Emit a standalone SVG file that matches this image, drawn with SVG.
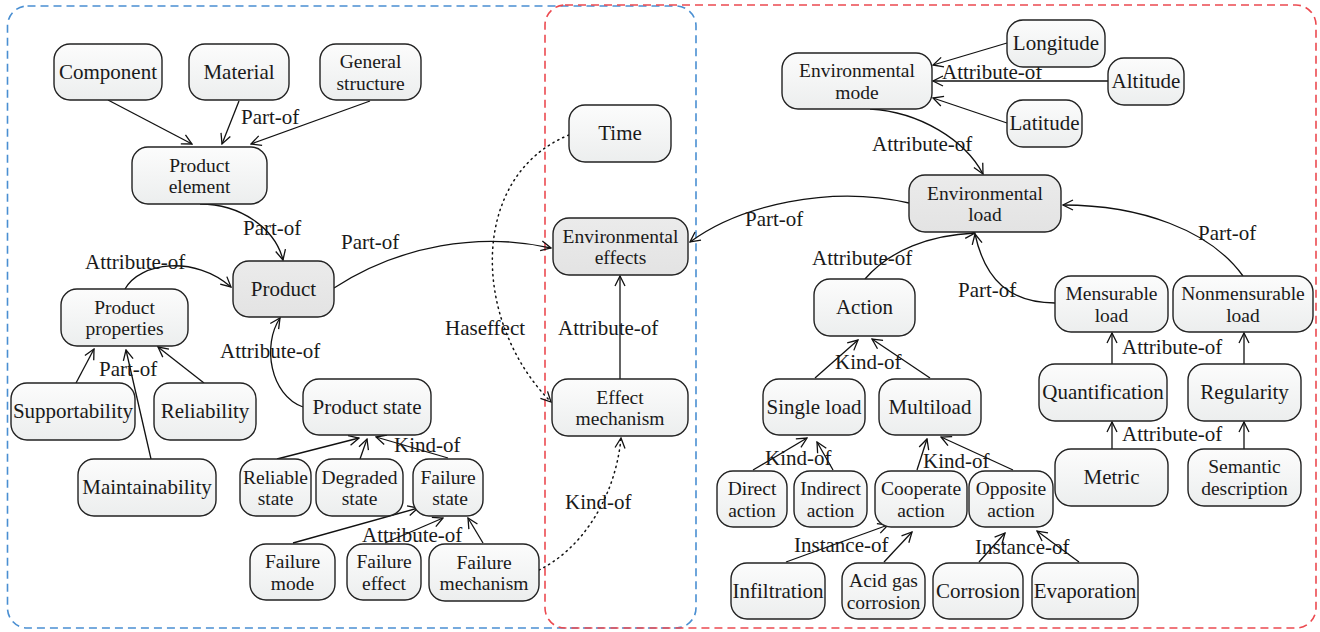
<svg xmlns="http://www.w3.org/2000/svg" width="1320" height="632" viewBox="0 0 1320 632">
<style>
.n rect{fill:url(#gw);stroke:#222;stroke-width:1.4}
.g rect{fill:url(#gg);stroke:#222;stroke-width:1.4}
text{font-family:"Liberation Serif","Times New Roman",serif;font-size:21px;fill:#1a1a1a}
.n text,.g text{text-anchor:middle}
text.t{font-size:19.5px}
.e path{fill:none;stroke:#111;stroke-width:1.3;marker-end:url(#arr)}
.e path.d{stroke-dasharray:1.3 4.2;stroke-linecap:round;stroke-width:1.5}
</style>
<defs>
<linearGradient id="gw" x1="0" y1="0" x2="0" y2="1"><stop offset="0" stop-color="#fcfcfc"/><stop offset="1" stop-color="#eceeee"/></linearGradient>
<linearGradient id="gg" x1="0" y1="0" x2="0" y2="1"><stop offset="0" stop-color="#ebebeb"/><stop offset="1" stop-color="#e3e3e3"/></linearGradient>
<marker id="arr" viewBox="0 0 12 12" refX="11" refY="6" markerWidth="12" markerHeight="12" markerUnits="userSpaceOnUse" orient="auto"><path d="M1,1 L11,6 L1,11" fill="none" stroke="#111" stroke-width="1.3"/></marker>
</defs>
<rect x="7.5" y="6" width="688.5" height="622" rx="20" fill="none" stroke="#4a8fd2" stroke-width="1.6" stroke-dasharray="8 5"/>
<rect x="545" y="5" width="771" height="623" rx="20" fill="none" stroke="#ec4a50" stroke-width="1.6" stroke-dasharray="8 5"/>
<g id="connectors" class="e">
<path d="M108,100 L192,144"/>
<path d="M239,101 L222,144"/>
<path d="M370,101 L251,144"/>
<path d="M200,204 C240,204 275,228 283,260"/>
<path d="M334,288 C400,245 480,232 551,248"/>
<path d="M125,289 C140,262 195,255 231,287"/>
<path d="M76,383 L94,349"/>
<path d="M151,459 L126,350"/>
<path d="M204,383 L158,347"/>
<path d="M303,407 C270,395 262,345 280,318"/>
<path d="M277,459 L359,438"/>
<path d="M360,459 L367,439"/>
<path d="M448,458 L376,437"/>
<path d="M293,543 L418,508"/>
<path d="M385,543 L443,518"/>
<path d="M483,543 L468,518"/>
<path class="d" d="M569,135 C470,175 470,320 551,402"/>
<path d="M620,379 L620,276"/>
<path class="d" d="M539,570 C580,550 615,500 621,438"/>
<path d="M1007,43 L933,65"/>
<path d="M1108,81 L933,81"/>
<path d="M1007,123 L933,98"/>
<path d="M870,109 C920,112 965,140 983,174"/>
<path d="M909,203 C830,185 740,205 690,242"/>
<path d="M865,279 C890,250 930,235 975,233"/>
<path d="M1055,303 C1010,303 985,280 975,234"/>
<path d="M1243,276 C1210,230 1140,205 1063,205"/>
<path d="M1112,364 L1112,333"/>
<path d="M1244,364 L1244,333"/>
<path d="M1112,449 L1112,422"/>
<path d="M1244,449 L1244,422"/>
<path d="M815,378 L858,340"/>
<path d="M930,378 L872,339"/>
<path d="M753,470 L807,438"/>
<path d="M833,470 L817,442"/>
<path d="M917,470 L927,439"/>
<path d="M1013,470 L941,437"/>
<path d="M786,562 L888,525"/>
<path d="M884,562 L912,532"/>
<path d="M979,562 L1005,533"/>
<path d="M1079,562 L1037,531"/>
</g>
<g id="labels">
<text x="241" y="124">Part-of</text>
<text x="243" y="235">Part-of</text>
<text x="341" y="249">Part-of</text>
<text x="85" y="269">Attribute-of</text>
<text x="99" y="376">Part-of</text>
<text x="220" y="358">Attribute-of</text>
<text x="394" y="452">Kind-of</text>
<text x="362" y="542">Attribute-of</text>
<text x="445" y="335">Haseffect</text>
<text x="558" y="335">Attribute-of</text>
<text x="565" y="509">Kind-of</text>
<text x="942" y="79">Attribute-of</text>
<text x="872" y="151">Attribute-of</text>
<text x="745" y="226">Part-of</text>
<text x="812" y="265">Attribute-of</text>
<text x="958" y="297">Part-of</text>
<text x="1198" y="240">Part-of</text>
<text x="1122" y="354">Attribute-of</text>
<text x="1122" y="441">Attribute-of</text>
<text x="835" y="369">Kind-of</text>
<text x="765" y="465">Kind-of</text>
<text x="923" y="468">Kind-of</text>
<text x="794" y="552">Instance-of</text>
<text x="975" y="554">Instance-of</text>
</g>
<g id="component" class="n"><rect x="54" y="44" width="108" height="56" rx="16"/><text x="108" y="79">Component</text></g>
<g id="material" class="n"><rect x="189" y="44" width="100" height="56" rx="16"/><text x="239" y="79">Material</text></g>
<g id="general-structure" class="n"><rect x="320" y="44" width="101" height="56" rx="16"/><text class="t" x="370.5" y="68">General<tspan x="370.5" dy="21.7">structure</tspan></text></g>
<g id="product-element" class="n"><rect x="132" y="147" width="135" height="57" rx="16"/><text class="t" x="199.5" y="171.5">Product<tspan x="199.5" dy="21.7">element</tspan></text></g>
<g id="product" class="g"><rect x="233" y="261" width="101" height="56" rx="16"/><text x="283.5" y="296">Product</text></g>
<g id="product-properties" class="n"><rect x="61" y="289" width="127" height="57" rx="16"/><text class="t" x="124.5" y="313.5">Product<tspan x="124.5" dy="21.7">properties</tspan></text></g>
<g id="supportability" class="n"><rect x="11" y="383" width="124" height="57" rx="16"/><text x="73" y="418">Supportability</text></g>
<g id="reliability" class="n"><rect x="154" y="383" width="102" height="57" rx="16"/><text x="205" y="418">Reliability</text></g>
<g id="maintainability" class="n"><rect x="78" y="459" width="138" height="57" rx="16"/><text x="147" y="494">Maintainability</text></g>
<g id="product-state" class="n"><rect x="303" y="379" width="128" height="56" rx="16"/><text x="367" y="414">Product state</text></g>
<g id="reliable-state" class="n"><rect x="240" y="459" width="71" height="57" rx="16"/><text class="t" x="275.5" y="483.5">Reliable<tspan x="275.5" dy="21.7">state</tspan></text></g>
<g id="degraded-state" class="n"><rect x="316" y="459" width="87" height="57" rx="16"/><text class="t" x="359.5" y="483.5">Degraded<tspan x="359.5" dy="21.7">state</tspan></text></g>
<g id="failure-state" class="n"><rect x="413" y="459" width="70" height="57" rx="16"/><text class="t" x="448" y="483.5">Failure<tspan x="450" dy="21.7">state</tspan></text></g>
<g id="failure-mode" class="n"><rect x="250" y="544" width="85" height="56" rx="16"/><text class="t" x="292.5" y="568">Failure<tspan x="292.5" dy="21.7">mode</tspan></text></g>
<g id="failure-effect" class="n"><rect x="347" y="544" width="74" height="56" rx="16"/><text class="t" x="384" y="568">Failure<tspan x="384" dy="21.7">effect</tspan></text></g>
<g id="failure-mechanism" class="n"><rect x="429" y="544" width="110" height="57" rx="16"/><text class="t" x="484" y="568.5">Failure<tspan x="484" dy="21.7">mechanism</tspan></text></g>
<g id="time" class="n"><rect x="569" y="105" width="102" height="57" rx="16"/><text x="620" y="140">Time</text></g>
<g id="environmental-effects" class="g"><rect x="553" y="218" width="135" height="57" rx="16"/><text class="t" x="620.5" y="242.5">Environmental<tspan x="620.5" dy="21.7">effects</tspan></text></g>
<g id="effect-mechanism" class="n"><rect x="552" y="379" width="136" height="57" rx="16"/><text class="t" x="620" y="403.5">Effect<tspan x="620" dy="21.7">mechanism</tspan></text></g>
<g id="environmental-mode" class="n"><rect x="782" y="53" width="150" height="56" rx="16"/><text class="t" x="857" y="77">Environmental<tspan x="857" dy="21.7">mode</tspan></text></g>
<g id="longitude" class="n"><rect x="1007" y="20" width="98" height="47" rx="16"/><text x="1056" y="50">Longitude</text></g>
<g id="altitude" class="n"><rect x="1108" y="58" width="76" height="47" rx="16"/><text x="1146" y="88">Altitude</text></g>
<g id="latitude" class="n"><rect x="1007" y="100" width="75" height="47" rx="16"/><text x="1044.5" y="130">Latitude</text></g>
<g id="environmental-load" class="g"><rect x="909" y="175" width="152" height="57" rx="16"/><text class="t" x="985" y="199.5">Environmental<tspan x="985" dy="21.7">load</tspan></text></g>
<g id="action" class="n"><rect x="814" y="279" width="101" height="57" rx="16"/><text x="864.5" y="314">Action</text></g>
<g id="single-load" class="n"><rect x="763" y="379" width="102" height="56" rx="16"/><text x="814" y="414">Single load</text></g>
<g id="multiload" class="n"><rect x="879" y="379" width="102" height="56" rx="16"/><text x="930" y="414">Multiload</text></g>
<g id="direct-action" class="n"><rect x="717" y="471" width="70" height="56" rx="16"/><text class="t" x="752" y="495">Direct<tspan x="752" dy="21.7">action</tspan></text></g>
<g id="indirect-action" class="n"><rect x="794" y="471" width="73" height="56" rx="16"/><text class="t" x="830.5" y="495">Indirect<tspan x="830.5" dy="21.7">action</tspan></text></g>
<g id="cooperate-action" class="n"><rect x="875" y="471" width="92" height="56" rx="16"/><text class="t" x="921" y="495">Cooperate<tspan x="921" dy="21.7">action</tspan></text></g>
<g id="opposite-action" class="n"><rect x="969" y="471" width="84" height="56" rx="16"/><text class="t" x="1011" y="495">Opposite<tspan x="1011" dy="21.7">action</tspan></text></g>
<g id="infiltration" class="n"><rect x="731" y="563" width="94" height="56" rx="16"/><text x="778" y="598">Infiltration</text></g>
<g id="acid-gas-corrosion" class="n"><rect x="842" y="563" width="83" height="56" rx="16"/><text class="t" x="883.5" y="587">Acid gas<tspan x="883.5" dy="21.7">corrosion</tspan></text></g>
<g id="corrosion" class="n"><rect x="933" y="563" width="90" height="56" rx="16"/><text x="978" y="598">Corrosion</text></g>
<g id="evaporation" class="n"><rect x="1032" y="563" width="106" height="56" rx="16"/><text x="1085" y="598">Evaporation</text></g>
<g id="mensurable-load" class="n"><rect x="1055" y="276" width="113" height="56" rx="16"/><text class="t" x="1111.5" y="300">Mensurable<tspan x="1111.5" dy="21.7">load</tspan></text></g>
<g id="nonmensurable-load" class="n"><rect x="1173" y="276" width="140" height="56" rx="16"/><text class="t" x="1243" y="300">Nonmensurable<tspan x="1243" dy="21.7">load</tspan></text></g>
<g id="quantification" class="n"><rect x="1039" y="364" width="128" height="57" rx="16"/><text x="1103" y="399">Quantification</text></g>
<g id="regularity" class="n"><rect x="1188" y="364" width="113" height="57" rx="16"/><text x="1244.5" y="399">Regularity</text></g>
<g id="metric" class="n"><rect x="1055" y="449" width="113" height="57" rx="16"/><text x="1111.5" y="484">Metric</text></g>
<g id="semantic-description" class="n"><rect x="1188" y="449" width="113" height="57" rx="16"/><text class="t" x="1244.5" y="473">Semantic<tspan x="1244.5" dy="21.7">description</tspan></text></g>
</svg>
